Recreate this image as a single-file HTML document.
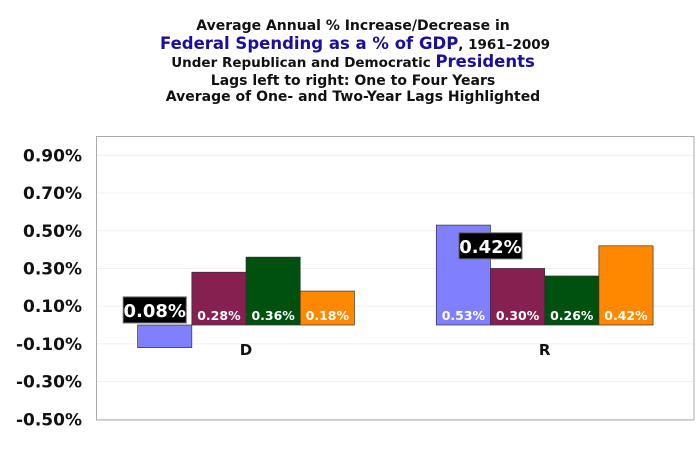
<!DOCTYPE html>
<html><head><meta charset="utf-8"><style>
body{margin:0;background:#fff;width:700px;height:447px;overflow:hidden;font-family:"DejaVu Sans","Liberation Sans",sans-serif}
</style></head><body>
<svg width="700" height="447" font-family="DejaVu Sans, Liberation Sans, sans-serif">
<g text-anchor="middle" font-weight="bold" fill="#111">
<text x="353" y="30" font-size="14">Average Annual % Increase/Decrease in</text>
<text x="355" y="49" font-size="13.5"><tspan fill="#1a0f99" font-size="16.5">Federal Spending as a % of GDP</tspan>, 1961–2009</text>
<text x="353" y="67" font-size="13.5">Under Republican and Democratic <tspan fill="#1a0f99" font-size="16.5">Presidents</tspan></text>
<text x="353" y="85" font-size="14">Lags left to right: One to Four Years</text>
<text x="353" y="101" font-size="14">Average of One- and Two-Year Lags Highlighted</text>
</g>
<g id="grid"></g><g id="bars"></g><g id="labels"></g>
<rect x="96.5" y="136.5" width="597.5" height="283.5" fill="none" stroke="#aaa"/>
</svg>
<script>
const categories=["D","R"];
const s1=[-0.12,0.53],s2=[0.28,0.30],s3=[0.36,0.26],s4=[0.18,0.42];
const highlights=[0.08,0.42];
const ticks=[0.9,0.7,0.5,0.3,0.1,-0.1,-0.3,-0.5];
const tickLabels=["0.90%","0.70%","0.50%","0.30%","0.10%","-0.10%","-0.30%","-0.50%"];
const series=[s1,s2,s3,s4],colors=["#8080ff","#862050","#005010","#ff8800"];
const NS="http://www.w3.org/2000/svg";
const X0=96.7,PW=597.3,Y0=325,K=188.5;
const y=v=>Y0-v*K;
const cw=PW/categories.length,bw=54.2;
function mk(t,a,p){const e=document.createElementNS(NS,t);for(const k in a)e.setAttribute(k,a[k]);p.appendChild(e);return e;}
const G=document.getElementById('grid'),B=document.getElementById('bars'),L=document.getElementById('labels');
ticks.forEach((t,i)=>{
 const g=mk('line',{x1:X0,x2:X0+PW,y1:y(t),y2:y(t),stroke:'#f0f0f0'},G);
 
 
 const tx=mk('text',{x:82,y:y(t)+6,'text-anchor':'end','font-size':17,'font-weight':'bold',fill:'#111'},G);
 tx.textContent=tickLabels[i];
 
 
});
categories.forEach((c,ci)=>{
 const cx=X0+cw*(ci+0.5),start=cx-bw*2;
 series.forEach((s,si)=>{
  const v=s[ci],x=start+si*bw,top=Math.min(y(v),Y0),h=Math.abs(y(v)-Y0);
  const r=mk('rect',{x:x,y:top,width:bw,height:h,fill:colors[si],stroke:'#333','stroke-width':0.7},B);
  
  
  const ly=v<0?y(v)+17:Y0-5;
  const t=mk('text',{x:x+bw/2,y:ly,'text-anchor':'middle','font-size':12.5,'font-weight':'bold',fill:'#fff'},L);
  t.textContent=v.toFixed(2)+'%';
  
  
 });
 const cl=mk('text',{x:cx,y:355,'text-anchor':'middle','font-size':15,'font-weight':'bold',fill:'#111'},L);
 cl.textContent=c;
 
 
 const hv=highlights[ci],hx=ci===0?start+bw/2-10:start+bw;
 const hb=mk('rect',{x:hx-31.5,y:y(hv)-13,width:63,height:26,fill:'#000',stroke:'#666'},L);
 
 
 const ht=mk('text',{x:hx,y:y(hv)+7,'text-anchor':'middle','font-size':18,'font-weight':'bold',fill:'#fff'},L);
 ht.textContent=hv.toFixed(2)+'%';
 
 
});
</script>
</body></html>
